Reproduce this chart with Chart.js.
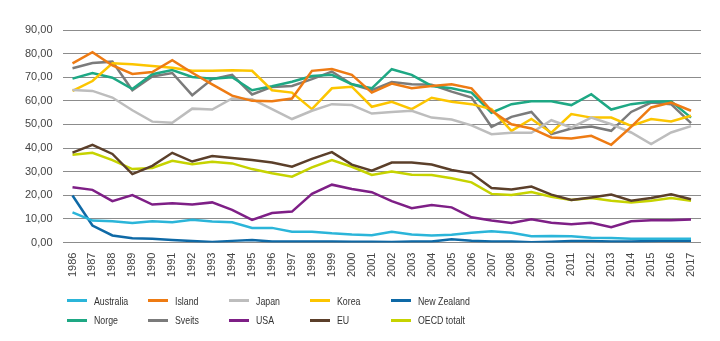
<!DOCTYPE html>
<html>
<head>
<meta charset="utf-8">
<script src="https://cdn.jsdelivr.net/npm/chart.js@4/dist/chart.umd.min.js"></script>
<style>
  html, body { margin: 0; padding: 0; background: #fff; }
  #wrap { position: relative; width: 720px; height: 341px; }
  #c { position: absolute; left: 0; top: 0; }
  #legend { position: absolute; left: 67px; top: 291px; display: grid;
    grid-template-columns: repeat(5, 81px); grid-auto-rows: 19.5px;
    font-family: "Liberation Sans", Arial, sans-serif;
    font-size: 11px; color: #333; }
  .item { display: flex; align-items: center; white-space: nowrap; }
  .sw { width: 20px; height: 3px; margin-right: 7px; flex: none; }
  .tx { display: inline-block; transform: scaleX(0.8); transform-origin: 0 50%; }
</style>
</head>
<body>
<div id="wrap">
  <canvas id="c" width="720" height="341"></canvas>
  <div id="legend"></div>
</div>
<script>
const years = ["1986","1987","1988","1989","1990","1991","1992","1993","1994","1995","1996","1997","1998","1999","2000","2001","2002","2003","2004","2005","2006","2007","2008","2009","2010","2011","2012","2013","2014","2015","2016","2017"];

const australia = [12.8, 9.3, 9.0, 8.3, 9.0, 8.6, 9.6, 8.9, 8.6, 6.2, 6.2, 4.6, 4.6, 3.9, 3.4, 3.1, 4.6, 3.4, 3.0, 3.3, 4.1, 4.8, 4.1, 2.7, 2.8, 2.7, 2.0, 1.9, 1.6, 1.6, 1.6, 1.6];
const island = [75.9, 80.6, 75.0, 71.4, 72.2, 77.2, 71.9, 67.0, 62.2, 60.0, 59.8, 61.0, 72.7, 73.5, 71.0, 63.5, 67.3, 65.3, 66.3, 67.0, 65.3, 55.8, 50.1, 48.3, 44.5, 44.1, 45.2, 41.4, 49.0, 57.2, 59.3, 55.8];
const japan = [64.6, 64.2, 61.4, 56.0, 51.2, 50.7, 56.7, 56.3, 61.0, 60.7, 56.5, 52.3, 55.8, 58.6, 58.2, 54.6, 55.3, 55.8, 52.9, 52.1, 49.6, 45.9, 46.5, 46.5, 51.8, 48.7, 52.9, 50.1, 46.6, 41.7, 46.6, 49.3];
const korea = [64.2, 68.4, 75.9, 75.5, 74.8, 74.0, 72.7, 72.7, 73.0, 72.7, 64.5, 63.5, 56.5, 65.3, 66.0, 57.5, 59.6, 56.5, 61.3, 59.6, 58.6, 56.5, 47.3, 52.3, 46.5, 54.4, 52.9, 52.9, 49.4, 52.3, 51.3, 53.7];
const newZealand = [19.9, 7.2, 3.0, 1.8, 1.6, 1.1, 0.6, 0.2, 0.7, 1.1, 0.4, 0.4, 0.4, 0.4, 0.3, 0.3, 0.2, 0.4, 0.4, 1.4, 0.8, 0.4, 0.4, 0.1, 0.3, 0.6, 0.6, 0.4, 0.4, 0.6, 0.9, 0.8];
const norge = [69.4, 71.8, 69.8, 65.0, 71.3, 73.0, 70.1, 69.4, 70.0, 64.5, 66.2, 68.1, 70.5, 71.0, 67.0, 65.3, 73.4, 71.0, 66.3, 65.3, 63.5, 55.0, 58.6, 59.8, 59.8, 58.2, 62.8, 56.3, 58.6, 59.6, 59.8, 52.9];
const sveits = [73.8, 76.0, 76.6, 64.5, 70.3, 71.8, 62.4, 69.2, 71.0, 62.7, 65.9, 66.3, 69.2, 72.4, 67.0, 64.5, 68.0, 67.0, 66.8, 63.9, 61.4, 49.0, 53.2, 55.3, 45.9, 48.3, 49.1, 47.3, 55.3, 59.3, 58.6, 50.6];
const usa = [23.4, 22.3, 17.5, 20.1, 16.1, 16.6, 16.1, 17.0, 13.8, 9.6, 12.5, 13.1, 20.6, 24.5, 22.7, 21.3, 17.5, 14.5, 15.9, 14.9, 10.7, 9.3, 8.3, 9.8, 8.4, 7.7, 8.4, 6.5, 9.0, 9.4, 9.4, 9.7];
const eu = [38.1, 41.4, 37.5, 29.0, 32.5, 38.0, 34.3, 36.6, 35.8, 34.9, 33.9, 32.1, 35.4, 38.3, 33.0, 30.4, 33.9, 33.9, 33.0, 30.7, 29.3, 23.1, 22.5, 23.7, 20.3, 18.0, 19.1, 20.3, 17.7, 18.9, 20.4, 18.3];
const oecd = [37.2, 38.0, 34.9, 31.1, 31.6, 34.6, 33.2, 34.2, 33.5, 31.1, 29.3, 27.9, 31.8, 34.9, 32.1, 28.6, 30.1, 28.7, 28.6, 27.2, 25.5, 20.6, 20.1, 21.4, 19.4, 18.0, 18.9, 17.7, 17.0, 17.7, 18.9, 17.7];

const seriesNames = ["Australia","Island","Japan","Korea","New Zealand","Norge","Sveits","USA","EU","OECD totalt"];
const seriesData = [australia, island, japan, korea, newZealand, norge, sveits, usa, eu, oecd];
const seriesColors = ["#2bb5d9","#ee7b13","#bdbdbd","#fcc500","#0e69a6","#1ea884","#7b7b7b","#7e1f86","#5b3f2a","#c6d300"];

const datasets = seriesNames.map((n, i) => ({
  label: n,
  data: seriesData[i],
  borderColor: seriesColors[i],
  backgroundColor: seriesColors[i],
  borderWidth: 2.5,
  pointRadius: 0,
  tension: 0,
  fill: false
}));

const axisFont = { family: "'Liberation Sans', Arial, sans-serif", size: 11 };

new Chart(document.getElementById('c'), {
  type: 'line',
  data: { labels: years, datasets },
  options: {
    responsive: false,
    animation: false,
    devicePixelRatio: 1,
    layout: { padding: { left: 15, right: 19, top: 30, bottom: 54 } },
    plugins: { legend: { display: false }, tooltip: { enabled: false } },
    scales: {
      x: {
        offset: true,
        grid: { display: false, drawTicks: false },
        border: { display: false },
        ticks: { color: '#444', font: axisFont, maxRotation: 90, minRotation: 90, autoSkip: false, padding: 10 }
      },
      y: {
        min: 0, max: 90,
        grid: { color: '#8c8c8c', lineWidth: 1, drawTicks: false },
        border: { display: false },
        ticks: { stepSize: 10, color: '#444', font: axisFont, padding: 10,
          callback: v => v.toFixed(2).replace('.', ',') }
      }
    }
  }
});

const lg = document.getElementById('legend');
seriesNames.forEach((n, i) => {
  const it = document.createElement('div');
  it.className = 'item';
  const sw = document.createElement('span');
  sw.className = 'sw';
  sw.style.background = seriesColors[i];
  const tx = document.createElement('span');
  tx.className = 'tx';
  tx.textContent = n;
  it.appendChild(sw); it.appendChild(tx);
  lg.appendChild(it);
});
</script>
</body>
</html>
